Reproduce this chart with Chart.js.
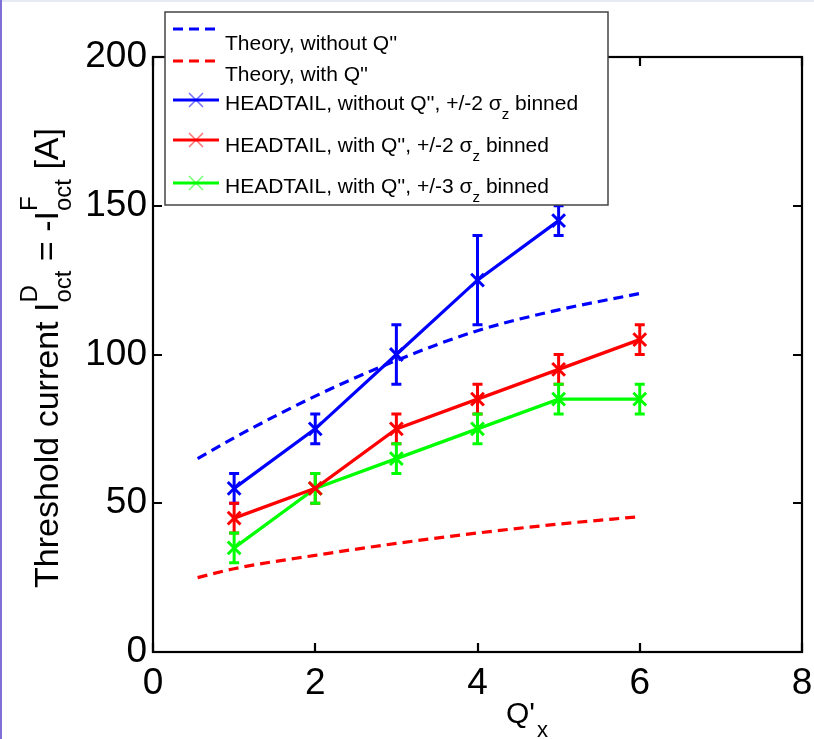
<!DOCTYPE html>
<html>
<head>
<meta charset="utf-8">
<script src="https://cdn.jsdelivr.net/npm/chart.js@4"></script>
<style>
  html, body { margin: 0; padding: 0; background: #fff; }
  #wrap { width: 814px; height: 739px; position: relative; }
</style>
</head>
<body>
<div id="wrap"><canvas id="chart" width="814" height="739"></canvas></div>
<script>
// theory curves (sampled along Q'x)
const theoryX = [0.55, 1, 2, 3, 4, 5, 6];
const theoryNoQ2 = [65, 72, 86, 98, 108, 115, 120.5];
const theoryWithQ2 = [25, 28, 32.5, 36.5, 40, 43, 45.5];

// HEADTAIL simulation points
const htX = [1, 2, 3, 4, 5, 6];
const htNoQ2 = [55, 75, 100, 125, 145, null];
const htNoQ2Err = [5, 5, 10, 15, 5, null];
const htQ2Sigma2 = [45, 55, 75, 85, 95, 105];
const htQ2Sigma2Err = [5, 5, 5, 5, 5, 5];
const htQ2Sigma3 = [35, 55, 65, 75, 85, 85];
const htQ2Sigma3Err = [5, 5, 5, 5, 5, 5];

const FONT = "'Liberation Sans', Arial, Helvetica, sans-serif";
const BLUE = "#0000ff", RED = "#ff0000", GREEN = "#00ff00";

const pts = (xs, ys) => xs.map((x, i) => ({ x: x, y: ys[i] })).filter(p => p.y !== null);

const theoryStyle = { borderWidth: 3.2, borderDash: [10, 6], pointRadius: 0, fill: false, cubicInterpolationMode: "monotone" };
const htStyle = { borderWidth: 3.2, pointStyle: "crossRot", pointRadius: 9, pointBorderWidth: 3, fill: false, tension: 0 };

const datasets = [
  Object.assign({ label: "Theory, without Q''", data: pts(theoryX, theoryNoQ2), borderColor: BLUE }, theoryStyle),
  Object.assign({ label: "Theory, with Q''", data: pts(theoryX, theoryWithQ2), borderColor: RED }, theoryStyle),
  Object.assign({ label: "HEADTAIL, without Q''", data: pts(htX, htNoQ2), err: htNoQ2Err, borderColor: BLUE, pointBorderColor: BLUE, backgroundColor: BLUE }, htStyle),
  Object.assign({ label: "HEADTAIL, with Q'' 2", data: pts(htX, htQ2Sigma2), err: htQ2Sigma2Err, borderColor: RED, pointBorderColor: RED, backgroundColor: RED }, htStyle),
  Object.assign({ label: "HEADTAIL, with Q'' 3", data: pts(htX, htQ2Sigma3), err: htQ2Sigma3Err, borderColor: GREEN, pointBorderColor: GREEN, backgroundColor: GREEN }, htStyle)
];

// error bars, drawn through the scales
const errorBars = {
  id: "errorBars",
  beforeDatasetsDraw(chart) {
    const { ctx, scales: { x, y } } = chart;
    chart.data.datasets.forEach(ds => {
      if (!ds.err) return;
      ctx.save();
      ctx.strokeStyle = ds.borderColor;
      ctx.lineWidth = 3;
      ds.data.forEach(p => {
        const e = ds.err[htX.indexOf(p.x)];
        if (e == null) return;
        const px = x.getPixelForValue(p.x);
        const top = y.getPixelForValue(p.y + e), bot = y.getPixelForValue(p.y - e);
        ctx.beginPath();
        ctx.moveTo(px, top); ctx.lineTo(px, bot);
        ctx.moveTo(px - 5, top); ctx.lineTo(px + 5, top);
        ctx.moveTo(px - 5, bot); ctx.lineTo(px + 5, bot);
        ctx.stroke();
      });
      ctx.restore();
    });
  }
};

// box, inward ticks, axis titles, legend, page edges
const decor = {
  id: "decor",
  beforeDraw(chart) {
    const ctx = chart.ctx;
    ctx.save();
    ctx.fillStyle = "#fff";
    ctx.fillRect(0, 0, chart.width, chart.height);
    ctx.fillStyle = "#e6eaf3";
    ctx.fillRect(0, 0, chart.width, 2);
    ctx.fillStyle = "#7f70d8";
    ctx.fillRect(0, 0, 2, chart.height);
    ctx.restore();
  },
  afterDraw(chart) {
    const { ctx, chartArea: a, scales: { x, y } } = chart;
    ctx.save();
    ctx.strokeStyle = "#000";
    ctx.lineWidth = 2.2;
    ctx.strokeRect(a.left, a.top, a.right - a.left, a.bottom - a.top);
    ctx.beginPath();
    y.ticks.forEach(t => {
      const py = Math.round(y.getPixelForValue(t.value));
      ctx.moveTo(a.left, py); ctx.lineTo(a.left + 9, py);
      ctx.moveTo(a.right, py); ctx.lineTo(a.right - 9, py);
    });
    x.ticks.forEach(t => {
      const px = Math.round(x.getPixelForValue(t.value));
      ctx.moveTo(px, a.bottom); ctx.lineTo(px, a.bottom - 9);
      ctx.moveTo(px, a.top); ctx.lineTo(px, a.top + 9);
    });
    ctx.stroke();

    // x title  Q'x
    ctx.fillStyle = "#000";
    ctx.textBaseline = "alphabetic";
    ctx.font = "30px " + FONT;
    ctx.fillText("Q'", 506, 723);
    const qw = ctx.measureText("Q'").width;
    ctx.font = "22px " + FONT;
    ctx.fillText("x", 506 + qw + 2, 737);

    // y title, rotated
    const big = "34px " + FONT, small = "24px " + FONT;
    const parts = [
      { t: "Threshold current I", f: big },
      { t: "D", f: small, dy: -21, stack: true },
      { t: "oct", f: small, dy: 13 },
      { t: " = -I", f: big },
      { t: "F", f: small, dy: -21, stack: true },
      { t: "oct", f: small, dy: 13 },
      { t: " [A]", f: big }
    ];
    let total = 0;
    parts.forEach(p => { ctx.font = p.f; p.w = ctx.measureText(p.t).width; if (!p.stack) total += p.w; });
    ctx.translate(58, 358);
    ctx.rotate(-Math.PI / 2);
    let cx = -total / 2;
    parts.forEach(p => {
      ctx.font = p.f;
      ctx.fillText(p.t, cx, p.dy || 0);
      if (!p.stack) cx += p.w;
    });
    ctx.restore();

    // legend
    ctx.save();
    ctx.fillStyle = "#fff";
    ctx.fillRect(165, 12, 443, 193);
    ctx.strokeStyle = "#444";
    ctx.lineWidth = 1.5;
    ctx.strokeRect(165, 12, 443, 193);
    const rows = [
      { ds: 0, ly: 29, ty: 50, txt: ["Theory, without Q''"] },
      { ds: 1, ly: 61, ty: 81, txt: ["Theory, with Q''"] },
      { ds: 2, ly: 100, ty: 110, txt: ["HEADTAIL, without Q'', +/-2 σ", "z", " binned"] },
      { ds: 3, ly: 140, ty: 152, txt: ["HEADTAIL, with Q'', +/-2 σ", "z", " binned"] },
      { ds: 4, ly: 183, ty: 193, txt: ["HEADTAIL, with Q'', +/-3 σ", "z", " binned"] }
    ];
    rows.forEach(r => {
      const ds = chart.data.datasets[r.ds];
      ctx.strokeStyle = ds.borderColor;
      ctx.lineWidth = 3;
      ctx.setLineDash(ds.borderDash || []);
      ctx.beginPath();
      ctx.moveTo(173, r.ly); ctx.lineTo(219, r.ly);
      ctx.stroke();
      ctx.setLineDash([]);
      if (ds.pointStyle) {
        ctx.lineWidth = 1.5;
        ctx.globalAlpha = 0.55;
        ctx.beginPath();
        ctx.moveTo(189, r.ly - 7); ctx.lineTo(203, r.ly + 7);
        ctx.moveTo(189, r.ly + 7); ctx.lineTo(203, r.ly - 7);
        ctx.stroke();
        ctx.globalAlpha = 1;
      }
      ctx.fillStyle = "#000";
      let tx = 225;
      r.txt.forEach((s, i) => {
        const sub = i === 1;
        ctx.font = (sub ? "15px " : "21px ") + FONT;
        ctx.fillText(s, tx, r.ty + (sub ? 9 : 0));
        tx += ctx.measureText(s).width;
      });
    });
    ctx.restore();
  }
};

new Chart(document.getElementById("chart"), {
  type: "line",
  data: { datasets: datasets },
  options: {
    responsive: false,
    animation: false,
    layout: { padding: { top: 57, right: 6, left: 0, bottom: 0 } },
    plugins: { legend: { display: false }, tooltip: { enabled: false } },
    scales: {
      x: {
        type: "linear", min: 0, max: 8,
        ticks: { stepSize: 2, color: "#000", font: { family: FONT, size: 37 }, padding: 10, maxRotation: 0 },
        grid: { display: false, drawTicks: false },
        border: { display: false },
        afterFit: s => { s.height = 87; s.paddingLeft = 0; s.paddingRight = 0; }
      },
      y: {
        min: 0, max: 200,
        ticks: { stepSize: 50, color: "#000", font: { family: FONT, size: 37 }, padding: 6 },
        grid: { display: false, drawTicks: false },
        border: { display: false },
        afterFit: s => { s.width = 153; s.paddingTop = 0; s.paddingBottom = 0; }
      }
    }
  },
  plugins: [errorBars, decor]
});
</script>
</body>
</html>
